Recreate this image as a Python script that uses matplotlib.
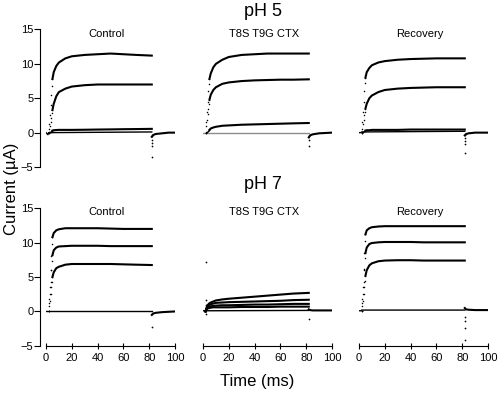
import numpy as np
import matplotlib.pyplot as plt

plt.rcParams['font.family'] = ['Liberation Sans', 'DejaVu Sans']

# time points (ms) for the voltage step
t_on = [2, 2.5, 3, 3.5, 4, 4.5, 5, 6, 8, 10, 15, 20, 30, 40, 50, 60, 70, 82]
t_base = [0, 1.5, 2, 82]
t_tail = [82, 83, 85, 90, 95, 100]

# pH 5, Control
c5_a = [0, 1.2, 2.5, 4.0, 5.5, 6.8, 7.8, 8.8, 9.7, 10.2, 10.8, 11.1, 11.3, 11.4, 11.5, 11.4, 11.3, 11.2]
c5_b = [0, 0.5, 1.0, 1.6, 2.2, 2.8, 3.3, 4.2, 5.3, 5.9, 6.4, 6.7, 6.9, 7.0, 7.0, 7.0, 7.0, 7.0]
c5_c = [0, 0.05, 0.1, 0.15, 0.2, 0.25, 0.3, 0.35, 0.38, 0.4, 0.4, 0.4, 0.42, 0.45, 0.47, 0.5, 0.52, 0.55]
c5_base = [0, -0.3, 0, 0.1]
c5_tail = [-0.6, -0.35, -0.2, -0.1, 0, 0]
c5_drop = [-0.5, -1.0, -1.5, -2.0, -3.5]

# pH 5, T8S T9G CTX
t5_a = [0, 1.5, 3.0, 4.5, 6.0, 7.0, 7.8, 8.6, 9.5, 10.0, 10.6, 11.0, 11.3, 11.4, 11.5, 11.5, 11.5, 11.5]
t5_b = [0, 0.9, 1.8, 2.7, 3.5, 4.2, 4.8, 5.5, 6.2, 6.6, 7.1, 7.3, 7.5, 7.6, 7.65, 7.7, 7.7, 7.75]
t5_c = [0, 0.08, 0.15, 0.22, 0.3, 0.35, 0.4, 0.6, 0.75, 0.85, 1.0, 1.05, 1.15, 1.2, 1.25, 1.3, 1.35, 1.4]
t5_base = [0, 0, 0, 0]
t5_tail = [-0.7, -0.4, -0.25, -0.1, -0.05, 0]
t5_drop = [-0.5, -1.0, -1.9]

# pH 5, Recovery
r5_a = [0, 1.5, 3.0, 4.5, 6.0, 7.2, 8.0, 8.8, 9.4, 9.8, 10.2, 10.4, 10.6, 10.7, 10.75, 10.8, 10.8, 10.8]
r5_b = [0, 0.6, 1.2, 1.9, 2.5, 3.0, 3.5, 4.2, 5.0, 5.4, 5.9, 6.2, 6.4, 6.5, 6.55, 6.6, 6.6, 6.6]
r5_c = [0, 0.1, 0.15, 0.2, 0.25, 0.3, 0.3, 0.35, 0.35, 0.4, 0.4, 0.4, 0.4, 0.45, 0.45, 0.45, 0.45, 0.45]
r5_base = [0, 0, 0.1, 0.2]
r5_tail = [-0.4, -0.2, -0.1, 0, 0, 0]
r5_drop = [-0.4, -0.8, -1.2, -1.6, -3.0]

# pH 7, Control
c7_a = [0, 1.8, 3.5, 6.0, 8.0, 9.8, 10.8, 11.4, 11.8, 11.95, 12.1, 12.1, 12.1, 12.1, 12.05, 12.0, 12.0, 12.0]
c7_b = [0, 1.2, 2.5, 4.3, 6.0, 7.4, 8.2, 8.9, 9.3, 9.45, 9.5, 9.55, 9.55, 9.55, 9.5, 9.5, 9.5, 9.5]
c7_c = [0, 0.8, 1.5, 2.5, 3.5, 4.3, 5.0, 5.7, 6.3, 6.5, 6.8, 6.9, 6.9, 6.9, 6.9, 6.85, 6.8, 6.75]
c7_base = [0, 0, 0, 0]
c7_tail = [-0.5, -0.3, -0.2, -0.1, -0.05, 0]
c7_drop = [-0.4, -2.3]

# pH 7, T8S T9G CTX
t7_a = [0, 0.4, 0.7, 0.9, 1.0, 1.1, 1.2, 1.3, 1.45, 1.6, 1.75, 1.85, 2.0, 2.15, 2.3, 2.45, 2.6, 2.7]
t7_b = [0, 0.3, 0.5, 0.7, 0.8, 0.9, 0.95, 1.05, 1.15, 1.25, 1.3, 1.35, 1.4, 1.45, 1.5, 1.55, 1.65, 1.7]
t7_c = [0, 0.3, 0.45, 0.55, 0.6, 0.65, 0.7, 0.75, 0.8, 0.85, 0.9, 0.9, 0.95, 1.0, 1.0, 1.05, 1.1, 1.1]
t7_d = [0, 0.25, 0.35, 0.4, 0.45, 0.5, 0.5, 0.55, 0.6, 0.6, 0.6, 0.6, 0.65, 0.65, 0.65, 0.7, 0.7, 0.7]
t7_base = [0.1, 0.1, 0.1, 0.15]
t7_tail = [0.3, 0.2, 0.15, 0.15, 0.15, 0.15]
t7_drop = [-1.1]
t7_spike = [7.2, 1.7, 1.0, -0.3]

# pH 7, Recovery
r7_a = [0, 1.8, 3.5, 6.0, 8.5, 10.3, 11.2, 11.8, 12.1, 12.25, 12.35, 12.4, 12.4, 12.4, 12.4, 12.4, 12.4, 12.4]
r7_b = [0, 1.2, 2.5, 4.3, 6.2, 7.7, 8.5, 9.3, 9.8, 9.95, 10.05, 10.1, 10.1, 10.1, 10.05, 10.05, 10.05, 10.05]
r7_c = [0, 0.8, 1.5, 2.5, 3.5, 4.4, 5.2, 6.0, 6.7, 7.0, 7.3, 7.4, 7.45, 7.45, 7.4, 7.4, 7.4, 7.4]
r7_base = [0.1, 0.1, 0.2, 0.2]
r7_tail = [0.5, 0.3, 0.25, 0.2, 0.2, 0.2]
r7_drop = [-0.8, -1.4, -2.4, -4.1]

panels = [
    # row, col, label, traces, baseline, tail, drop dots, rise shown as dots, baseline colour
    (0, 0, 'Control', [c5_a, c5_b, c5_c], c5_base, c5_tail, c5_drop, True, 'k'),
    (0, 1, 'T8S T9G CTX', [t5_a, t5_b, t5_c], t5_base, t5_tail, t5_drop, True, '0.55'),
    (0, 2, 'Recovery', [r5_a, r5_b, r5_c], r5_base, r5_tail, r5_drop, True, 'k'),
    (1, 0, 'Control', [c7_a, c7_b, c7_c], c7_base, c7_tail, c7_drop, True, 'k'),
    (1, 1, 'T8S T9G CTX', [t7_a, t7_b, t7_c, t7_d], t7_base, t7_tail, t7_drop, False, 'k'),
    (1, 2, 'Recovery', [r7_a, r7_b, r7_c], r7_base, r7_tail, r7_drop, True, 'k'),
]

lefts = [0.092, 0.406, 0.718]
bottoms = [0.575, 0.12]
w, h = 0.258, 0.35

fig = plt.figure(figsize=(5, 3.93), dpi=100)

for row, col, label, traces, base, tail, drop, dotted, base_col in panels:
    ax = fig.add_axes([lefts[col], bottoms[row], w, h])
    ax.set_xlim(0, 100)
    ax.set_ylim(-5, 15)

    ax.plot(t_base, base, color=base_col, lw=1.0)
    for v in traces:
        if dotted:
            ax.plot(t_on[:7], v[:7], 'k.', ms=2.2, mec='none')
            ax.plot(t_on[6:], v[6:], color='k', lw=1.5)
        else:
            ax.plot(t_on, v, color='k', lw=1.5)
    ax.plot(t_tail, tail, color='k', lw=1.5)
    ax.plot([82.5] * len(drop), drop, 'k.', ms=2.5, mec='none')
    if row == 1 and col == 1:
        ax.plot([2] * len(t7_spike), t7_spike, 'k.', ms=2.5, mec='none')

    ax.text(0.47, 0.97, label, transform=ax.transAxes, ha='center', va='center', fontsize=8)

    for s in ['top', 'right']:
        ax.spines[s].set_visible(False)
    if col == 0:
        ax.spines['left'].set_position(('outward', 4))
        ax.set_yticks([-5, 0, 5, 10, 15])
        ax.tick_params(axis='y', labelsize=8, length=4, width=0.8, pad=1)
    else:
        ax.spines['left'].set_visible(False)
        ax.set_yticks([])
    if row == 1:
        ax.set_xticks([0, 20, 40, 60, 80, 100])
        ax.tick_params(axis='x', labelsize=8, length=5, width=0.8, direction='inout', pad=3)
    else:
        ax.spines['bottom'].set_visible(False)
        ax.set_xticks([])

fig.text(0.526, 0.972, 'pH 5', ha='center', va='center', fontsize=13)
fig.text(0.526, 0.53, 'pH 7', ha='center', va='center', fontsize=13)
fig.text(0.514, 0.028, 'Time (ms)', ha='center', va='center', fontsize=12)
fig.text(0.024, 0.52, 'Current (\u00b5A)', ha='center', va='center', rotation=90, fontsize=12)

fig.savefig('out.png', dpi=100)
